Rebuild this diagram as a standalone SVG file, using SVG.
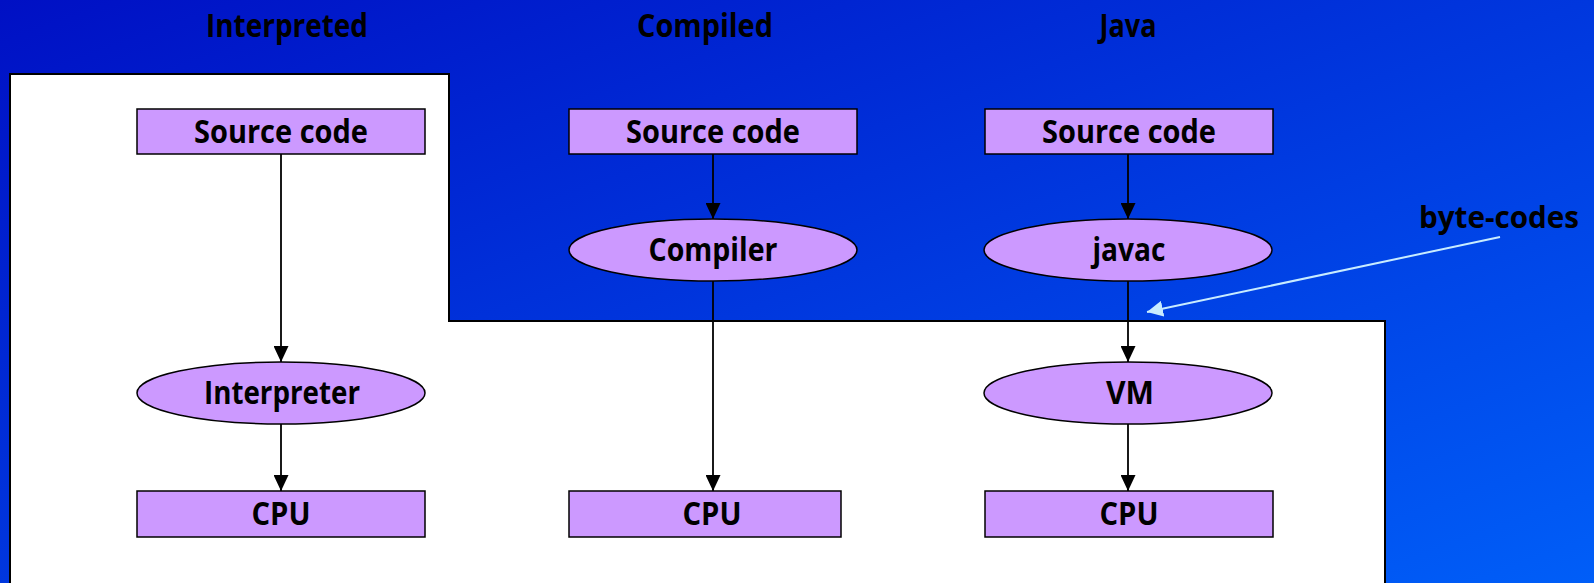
<svg xmlns="http://www.w3.org/2000/svg" width="1594" height="583" viewBox="0 0 1594 583">
<defs>
<linearGradient id="bg" x1="0" y1="0" x2="1" y2="1">
<stop offset="0" stop-color="#0010C4"/>
<stop offset="1" stop-color="#005EF8"/>
</linearGradient>
<marker id="ah" viewBox="0 0 10 10" refX="10" refY="5" markerWidth="16" markerHeight="15" markerUnits="userSpaceOnUse" orient="auto" preserveAspectRatio="none">
<path d="M0,0 L10,5 L0,10 z" fill="#000"/>
</marker>
<marker id="ahl" viewBox="0 0 10 10" refX="10" refY="5" markerWidth="16" markerHeight="16" markerUnits="userSpaceOnUse" orient="auto">
<path d="M0,0 L10,5 L0,10 z" fill="#C8ECFF"/>
</marker>
</defs>
<style>
text{font-family:"Open Sans","Noto Sans","DejaVu Sans",sans-serif;font-weight:bold;font-size:33px;fill:#000;text-anchor:middle;}
.box{fill:#CC99FF;stroke:#000;stroke-width:1.5;}
.conn{stroke:#000;stroke-width:1.8;fill:none;marker-end:url(#ah);}
</style>
<rect x="0" y="0" width="1594" height="583" fill="url(#bg)"/>
<path d="M10,74 H449 V321 H1385 V590 H10 Z" fill="#fff" stroke="#000" stroke-width="2"/>
<g id="titles">
<text x="287" y="37" textLength="162" lengthAdjust="spacingAndGlyphs">Interpreted</text>
<text x="705" y="37" textLength="136" lengthAdjust="spacingAndGlyphs">Compiled</text>
<text x="1128" y="37" textLength="57" lengthAdjust="spacingAndGlyphs">Java</text>
</g>
<g id="connectors">
<line class="conn" x1="281" y1="154" x2="281" y2="362"/>
<line class="conn" x1="281" y1="424" x2="281" y2="491"/>
<line class="conn" x1="713" y1="154" x2="713" y2="219"/>
<line class="conn" x1="713" y1="281" x2="713" y2="491"/>
<line class="conn" x1="1128" y1="154" x2="1128" y2="219"/>
<line class="conn" x1="1128" y1="281" x2="1128" y2="362"/>
<line class="conn" x1="1128" y1="424" x2="1128" y2="491"/>
<line x1="1500" y1="237" x2="1147" y2="312" stroke="#C8ECFF" stroke-width="2" marker-end="url(#ahl)"/>
</g>
<g id="src1"><rect class="box" x="137" y="109" width="288" height="45"/><text x="281" y="143" textLength="174" lengthAdjust="spacingAndGlyphs">Source code</text></g>
<g id="src2"><rect class="box" x="569" y="109" width="288" height="45"/><text x="713" y="143" textLength="174" lengthAdjust="spacingAndGlyphs">Source code</text></g>
<g id="src3"><rect class="box" x="985" y="109" width="288" height="45"/><text x="1129" y="143" textLength="174" lengthAdjust="spacingAndGlyphs">Source code</text></g>
<g id="compiler"><ellipse class="box" cx="713" cy="250" rx="144" ry="31"/><text x="713" y="261" textLength="129" lengthAdjust="spacingAndGlyphs">Compiler</text></g>
<g id="javac"><ellipse class="box" cx="1128" cy="250" rx="144" ry="31"/><text x="1129" y="261" textLength="73" lengthAdjust="spacingAndGlyphs">javac</text></g>
<g id="interpreter"><ellipse class="box" cx="281" cy="393" rx="144" ry="31"/><text x="282" y="404" textLength="156" lengthAdjust="spacingAndGlyphs">Interpreter</text></g>
<g id="vm"><ellipse class="box" cx="1128" cy="393" rx="144" ry="31"/><text x="1130" y="404" textLength="48" lengthAdjust="spacingAndGlyphs">VM</text></g>
<g id="cpu1"><rect class="box" x="137" y="491" width="288" height="46"/><text x="281" y="525" textLength="59" lengthAdjust="spacingAndGlyphs">CPU</text></g>
<g id="cpu2"><rect class="box" x="569" y="491" width="272" height="46"/><text x="712" y="525" textLength="59" lengthAdjust="spacingAndGlyphs">CPU</text></g>
<g id="cpu3"><rect class="box" x="985" y="491" width="288" height="46"/><text x="1129" y="525" textLength="59" lengthAdjust="spacingAndGlyphs">CPU</text></g>
<g id="bytecodes"><text x="1499" y="228" style="font-size:30px" textLength="160" lengthAdjust="spacingAndGlyphs">byte-codes</text></g>
</svg>
